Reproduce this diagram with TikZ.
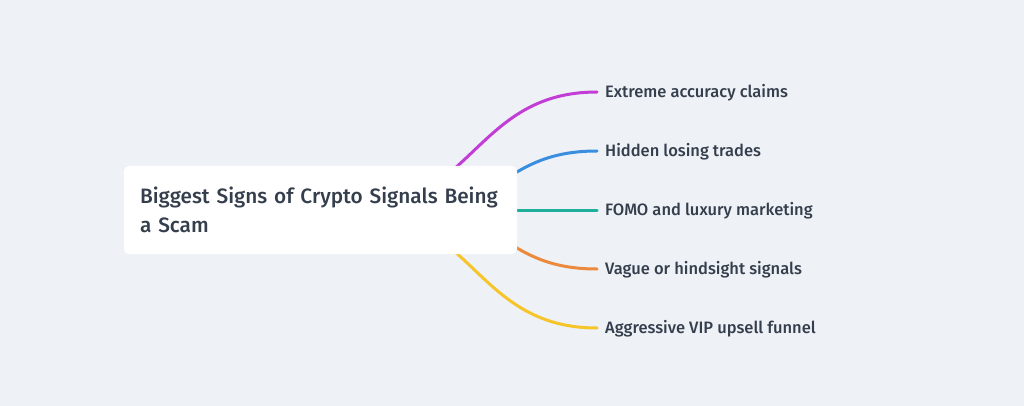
\documentclass[tikz,border=0pt]{standalone}
\usepackage{fontspec}
\setmainfont{Fira Sans}[UprightFont={* Medium}]
\usepackage{xcolor}
\usetikzlibrary{positioning}

\definecolor{bgcol}{HTML}{EEF1F6}
\definecolor{txtcol}{HTML}{343E4C}
\definecolor{cmag}{HTML}{C23CD6}
\definecolor{cblue}{HTML}{3A8EE0}
\definecolor{cteal}{HTML}{1FAE9A}
\definecolor{corange}{HTML}{EB8A3C}
\definecolor{cyellow}{HTML}{F5C52A}

\tikzset{
  branch/.style={line width=3pt,line cap=round},
  leaf/.style={anchor=west,inner xsep=8pt,inner ysep=0pt,text=txtcol,
    text height=11pt,text depth=0pt,font=\fontsize{16.5}{19}\selectfont},
  rootbox/.style={fill=white,rounded corners=5pt,text=txtcol,align=left,
    text width=361pt,inner xsep=16pt,minimum height=88pt,
    font=\fontsize{20.8}{28.5}\selectfont}
}

\begin{document}
\begin{tikzpicture}[x=1pt,y=-1pt]
		\fill[bgcol] (0,0) rectangle (1024,406);
		\useasboundingbox (0,0) rectangle (1024,406);
		\coordinate (outer) at (350,210);
		\coordinate (inner) at (409,210);
		\node[leaf] (claims) at (597,92) {Extreme accuracy claims};
		\node[leaf] (losing) at (597,151) {Hidden losing trades};
		\node[leaf] (fomo) at (597,210) {FOMO and luxury marketing};
		\node[leaf] (vague) at (597,269) {Vague or hindsight signals};
		\node[leaf] (upsell) at (597,328) {Aggressive VIP upsell funnel};
		\draw[branch,cmag] (outer) .. controls +(123,0) and +(-123,0) .. (claims.west);
		\draw[branch,cblue] (inner) .. controls +(94,0) and +(-94,0) .. (losing.west);
		\draw[branch,cteal] (inner) -- (fomo.west);
		\draw[branch,corange] (inner) .. controls +(94,0) and +(-94,0) .. (vague.west);
		\draw[branch,cyellow] (outer) .. controls +(123,0) and +(-123,0) .. (upsell.west);
		\node[rootbox] (scam) at (320.5,210) {Biggest Signs of Crypto Signals Being\\a Scam};
	\end{tikzpicture}
\end{document}
